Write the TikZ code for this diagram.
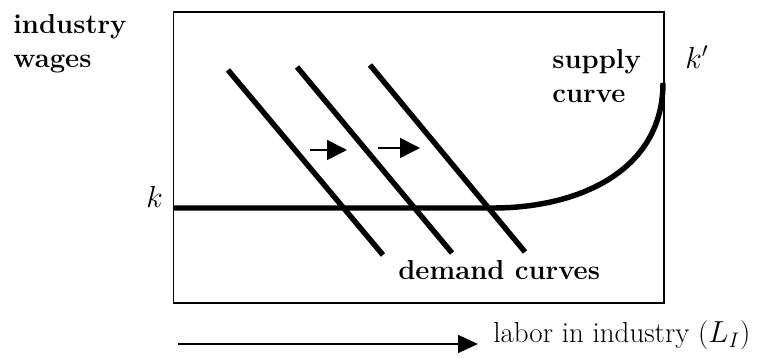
\documentclass[tikz,border=0pt]{standalone}
\usetikzlibrary{arrows.meta}

\begin{document}
\begin{tikzpicture}[scale=1.0,
  boldlbl/.style={font=\fontsize{15.6}{19.6}\selectfont\bfseries, inner sep=0pt},
  plainlbl/.style={font=\fontsize{16.5}{20}\selectfont, inner sep=0pt},
  heavy/.style={line width=3.1pt},
  shiftarrow/.style={line width=0.9pt, -{Triangle[length=0.40cm, width=0.40cm]}}]

\useasboundingbox (0, 0) rectangle (15.14, 7.16);

% ── Frame of the graph ──
\draw[line width=0.85pt] (3.47, 6.92) rectangle (13.28, 1.10);

% Axis labels (base = baseline of the last line)
\node[boldlbl, anchor=base west, align=left] (wages) at (0.26, 5.80) {industry\\wages};
\node[plainlbl, anchor=base west] (labor) at (9.86, 0.30) {labor in industry ($L_I$)};
\coordinate (axstart) at (3.56, 0.28);
\coordinate (axend) at (9.56, 0.28);
\draw[line width=0.9pt, -{Triangle[length=0.40cm, width=0.36cm]}] (axstart) -- (axend);

% ── Supply curve: flat at k, then bending up to k' ──
\node[plainlbl, anchor=base west] (k) at (2.92, 3.00) {$k$};
\node[plainlbl, anchor=base west] (kprime) at (13.70, 5.78) {$k'$};
\draw[heavy] (3.47, 3.00) -- (9.86, 3.00)
  .. controls (11.60, 3.00) and (13.26, 3.76) .. (13.26, 5.50);
\node[boldlbl, anchor=base west, align=left] (supply) at (11.04, 5.10) {supply\\curve};

% ── Demand curves shifting right ──
\draw[heavy] (4.56, 5.76) -- (7.66, 2.06);
\draw[heavy] (5.94, 5.82) -- (9.04, 2.10);
\draw[heavy] (7.40, 5.86) -- (10.50, 2.12);
\node[boldlbl, anchor=base west] (demand) at (7.96, 1.56) {demand curves};

% Shift arrows
\draw[shiftarrow] (6.20, 4.16) -- (6.94, 4.16);
\draw[shiftarrow] (7.56, 4.20) -- (8.40, 4.20);

\end{tikzpicture}
\end{document}
